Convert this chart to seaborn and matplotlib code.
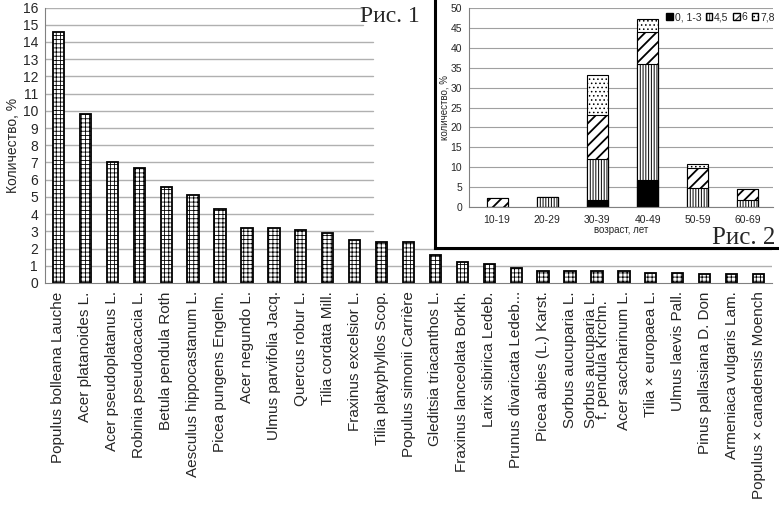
import numpy as np
import pandas as pd
import matplotlib
matplotlib.use("Agg")
import matplotlib.pyplot as plt
from matplotlib.patches import Patch
import seaborn as sns

# main chart: share of each species
species = ["Populus bolleana Lauche", "Acer platanoides L.", "Acer pseudoplatanus L.",
           "Robinia pseudoacacia L.", "Betula pendula Roth", "Aesculus hippocastanum L.",
           "Picea pungens Engelm.", "Acer negundo L.", "Ulmus parvifolia Jacq.",
           "Quercus robur L.", "Tilia cordata Mill.", "Fraxinus excelsior L.",
           "Tilia platyphyllos Scop.", "Populus simonii Carrière", "Gleditsia triacanthos L.",
           "Fraxinus lanceolata Borkh.", "Larix sibirica Ledeb.", "Prunus divaricata Ledeb...",
           "Picea abies (L.) Karst.", "Sorbus aucuparia L.",
           "Sorbus aucuparia L.\nf. pendula Kirchn.", "Acer saccharinum L.",
           "Tilia × europaea L.", "Ulmus laevis Pall.", "Pinus pallasiana D. Don",
           "Armeniaca vulgaris Lam.", "Populus × canadensis Moench"]
share = [14.6, 9.8, 7.0, 6.7, 5.6, 5.1, 4.3, 3.2, 3.2, 3.1, 2.9, 2.5, 2.4, 2.4, 1.6,
         1.2, 1.1, 0.9, 0.7, 0.7, 0.7, 0.7, 0.6, 0.6, 0.5, 0.5, 0.5]

# inset: age groups, stacked by class
ages = ["10-19", "20-29", "30-39", "40-49", "50-59", "60-69"]
cls_0_3 = [0, 0, 1.8, 6.7, 0, 0]
cls_4_5 = [0, 2.5, 10.3, 29.2, 4.6, 1.8]
cls_6 = [2.3, 0, 11.1, 8.2, 5.1, 2.6]
cls_7_8 = [0, 0, 10.1, 3.2, 1.1, 0]
class_names = ["0, 1-3", "4,5", "6", "7,8"]

sns.set_style("white")
plt.rcParams['font.family'] = ['Liberation Sans', 'DejaVu Sans']
plt.rcParams['hatch.linewidth'] = 0.6

W, H = 779, 512
fig = plt.figure(figsize=(W / 100, H / 100), dpi=100)

def box(x0, y0, x1, y1):
    # pixel box -> figure fraction
    return [x0 / W, 1 - y1 / H, (x1 - x0) / W, (y1 - y0) / H]

# ---- main chart
ax_l, ax_r = 45, 772
ax = fig.add_axes(box(ax_l, 7.5, ax_r, 283))
df = pd.DataFrame({"species": species, "share": share})
sns.barplot(data=df, x="species", y="share", color="white", edgecolor="black",
            linewidth=1.3, width=0.42, hatch="++++", ax=ax)
ax.set_xlim(-0.5, len(species) - 0.5)
ax.set_ylim(0, 16)
ax.set_yticks(range(0, 17))
# grid lines stop short where the inset picture sits
for v in range(1, 17):
    if v >= 15:
        stop = 363
    elif v >= 3:
        stop = 373
    else:
        stop = ax_r
    ax.axhline(v, xmax=(stop - ax_l) / (ax_r - ax_l), color="#b0b0b0",
               linewidth=1, zorder=0)
ax.set_xlabel("")
ax.set_ylabel("Количество, %", fontsize=10, labelpad=2)
ax.tick_params(axis="y", labelsize=10, length=3, color="#808080", pad=2)
ax.tick_params(axis="x", labelsize=11, length=0, pad=6)
plt.setp(ax.get_xticklabels(), rotation=90, va="top", ha="center", linespacing=0.85)
for s in ["top", "right"]:
    ax.spines[s].set_visible(False)
for s in ["left", "bottom"]:
    ax.spines[s].set_color("#808080")
fig.text(390 / W, 1 - 17 / H, "Рис. 1", fontsize=17, family="Liberation Serif",
         ha="center", va="center")

# inset picture frame
frame = fig.add_axes(box(435, -2, W + 2, 248))
frame.set_xticks([])
frame.set_yticks([])
frame.set_facecolor("white")
for s in frame.spines.values():
    s.set_linewidth(2.2)
    s.set_color("black")

# ---- inset chart
ins = fig.add_axes(box(469, 8.3, 773, 206.7))
ins.set_facecolor("white")
c1 = np.array(cls_0_3)
c2 = c1 + np.array(cls_4_5)
c3 = c2 + np.array(cls_6)
c4 = c3 + np.array(cls_7_8)
layers = [(c4, "white", "....", 0.6), (c3, "white", "///", 1.3),
          (c2, "white", "||||||", 0.7), (c1, "black", None, 0.6)]
for vals, fc, hatch, hlw in layers:
    n_before = len(ins.patches)
    with plt.rc_context({"hatch.linewidth": hlw}):
        sns.barplot(x=ages, y=vals, color=fc, edgecolor="black", linewidth=0.8,
                    width=0.42, hatch=hatch, ax=ins, saturation=1)
    for p in ins.patches[n_before:]:
        if hasattr(p, "set_hatch_linewidth"):
            p.set_hatch_linewidth(hlw)
ins.set_xlim(-0.56, 5.5)
ins.set_ylim(0, 50)
ins.set_yticks(range(0, 51, 5))
ins.yaxis.grid(True, color="#a0a0a0", linewidth=0.8)
ins.set_axisbelow(True)
ins.set_xticks(np.arange(-0.5, 6, 1), minor=True)
ins.tick_params(axis="x", which="major", length=0, labelsize=7.5, pad=6)
ins.tick_params(axis="x", which="minor", length=3, color="#808080")
ins.tick_params(axis="y", labelsize=7.5, length=3, color="#808080", pad=2)
ins.set_xlabel("возраст, лет", fontsize=7, labelpad=0)
ins.set_ylabel("количество, %", fontsize=7, labelpad=1)
for s in ["top", "right"]:
    ins.spines[s].set_visible(False)
for s in ["left", "bottom"]:
    ins.spines[s].set_color("#808080")

handles = [Patch(facecolor="black", edgecolor="black"),
           Patch(facecolor="white", edgecolor="black", hatch="||||||"),
           Patch(facecolor="white", edgecolor="black", hatch="///"),
           Patch(facecolor="white", edgecolor="black", hatch="....")]
ins.legend(handles, class_names, loc="upper right", ncol=4, frameon=False,
           fontsize=7.5, handlelength=0.6, handleheight=0.6, handletextpad=0.2,
           columnspacing=0.45, borderaxespad=0.2, borderpad=0.2,
           bbox_to_anchor=(1.02, 1.0))

fig.text(744 / W, 1 - 238 / H, "Рис. 2", fontsize=18, family="Liberation Serif",
         ha="center", va="center")

fig.savefig("out.png", dpi=100)
